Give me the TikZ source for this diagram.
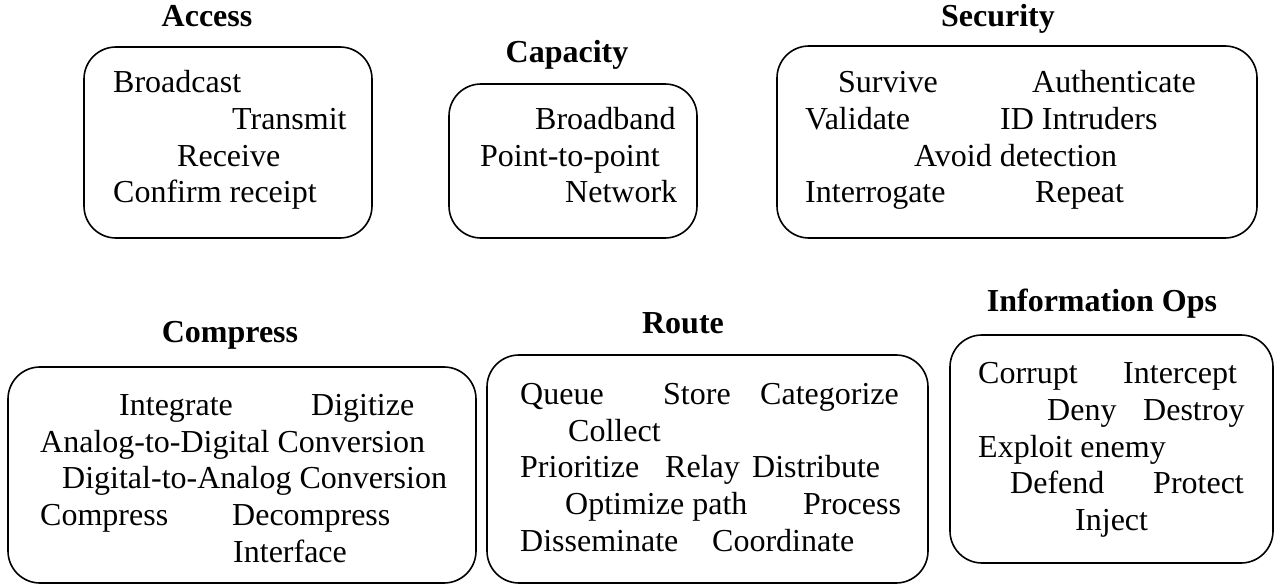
\documentclass[tikz,border=0pt]{standalone}
\usepackage{fontspec}
\setmainfont{Liberation Serif}
\begin{document}
\begin{tikzpicture}[x=1bp,y=-1bp,
  group/.style={draw=black, line width=1.6bp, rounded corners=32bp, inner sep=0pt},
  heading/.style={anchor=base, inner sep=0pt, font=\fontsize{32bp}{37bp}\selectfont\bfseries},
  item/.style={anchor=base west, inner sep=0pt, font=\fontsize{32bp}{37bp}\selectfont}]
\useasboundingbox (0,0) rectangle (1275,585);

% Access
\node[heading] (accesst) at (207,27) {Access};
\node[group, minimum width=288bp, minimum height=191bp] (access) at (228,142.5) {};
\node[item] (a1) at (113,93) {Broadcast};
\node[item] (a2) at (232,130) {Transmit};
\node[item] (a3) at (177,167) {Receive};
\node[item] (a4) at (113,203) {Confirm receipt};

% Capacity
\node[heading] (capacityt) at (567,63) {Capacity};
\node[group, minimum width=248bp, minimum height=154bp] (capacity) at (573,161) {};
\node[item] (c1) at (535,130) {Broadband};
\node[item] (c2) at (480,167) {Point-to-point};
\node[item] (c3) at (565,203) {Network};

% Security
\node[heading] (securityt) at (998,27) {Security};
\node[group, minimum width=480bp, minimum height=192bp] (security) at (1017,142) {};
\node[item] (s1) at (838,93) {Survive};
\node[item] (s2) at (1032,93) {Authenticate};
\node[item] (s3) at (805,130) {Validate};
\node[item] (s4) at (1000,130) {ID Intruders};
\node[item] (s5) at (914,167) {Avoid detection};
\node[item] (s6) at (805,203) {Interrogate};
\node[item] (s7) at (1035,203) {Repeat};

% Compress
\node[heading] (compresst) at (230,343) {Compress};
\node[group, minimum width=468bp, minimum height=216bp] (compress) at (242,475) {};
\node[item] (p1) at (119,415) {Integrate};
\node[item] (p2) at (311,415) {Digitize};
\node[item] (p3) at (40,452) {Analog-to-Digital Conversion};
\node[item] (p4) at (62,488) {Digital-to-Analog Conversion};
\node[item] (p5) at (40,525) {Compress};
\node[item] (p6) at (232,525) {Decompress};
\node[item] (p7) at (233,562) {Interface};

% Route
\node[heading] (routet) at (683,334) {Route};
\node[group, minimum width=441bp, minimum height=228bp] (route) at (707.5,469) {};
\node[item] (r1) at (520,404) {Queue};
\node[item] (r2) at (663,404) {Store};
\node[item] (r3) at (760,404) {Categorize};
\node[item] (r4) at (568,441) {Collect};
\node[item] (r5) at (520,477) {Prioritize};
\node[item] (r6) at (665,477) {Relay};
\node[item] (r7) at (752,477) {Distribute};
\node[item] (r8) at (565,514) {Optimize path};
\node[item] (r9) at (803,514) {Process};
\node[item] (r10) at (520,551) {Disseminate};
\node[item] (r11) at (712,551) {Coordinate};

% Information Ops
\node[heading] (infot) at (1102,312) {Information Ops};
\node[group, minimum width=323bp, minimum height=228bp] (info) at (1111.5,449) {};
\node[item] (i1) at (978,383) {Corrupt};
\node[item] (i2) at (1123,383) {Intercept};
\node[item] (i3) at (1047,420) {Deny};
\node[item] (i4) at (1143,420) {Destroy};
\node[item] (i5) at (978,457) {Exploit enemy};
\node[item] (i6) at (1010,493) {Defend};
\node[item] (i7) at (1153,493) {Protect};
\node[item] (i8) at (1075,530) {Inject};
\end{tikzpicture}
\end{document}
